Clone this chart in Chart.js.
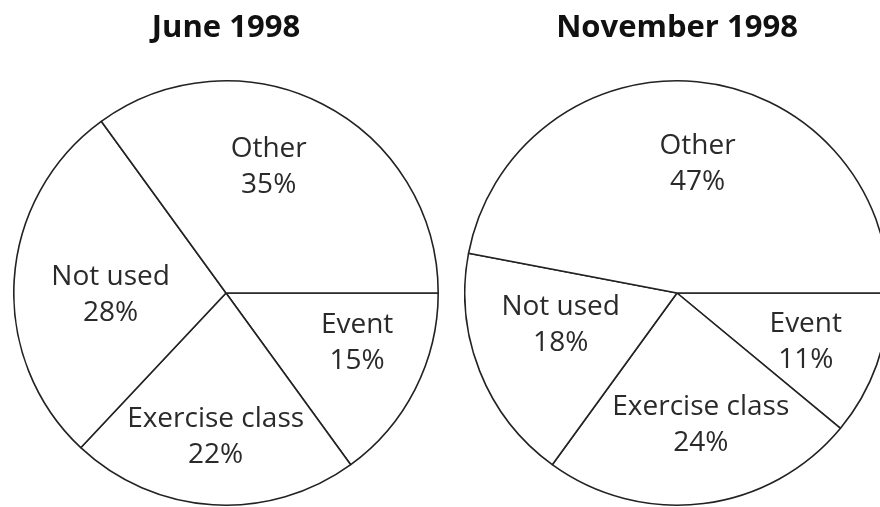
<!DOCTYPE html>
<html>
<head>
<meta charset="utf-8">
<script src="https://cdn.jsdelivr.net/npm/chart.js@4/dist/chart.umd.min.js"></script>
<style>
  html, body { margin: 0; padding: 0; background: #fff; overflow: hidden; }
  body { width: 880px; height: 507px; position: relative; }
  .pie { position: absolute; top: 0; width: 426px; height: 507px; }
  #left { left: 13px; }
  #right { left: 464px; }
</style>
</head>
<body>
<div class="pie" id="left"><canvas id="juneChart"></canvas></div>
<div class="pie" id="right"><canvas id="novChart"></canvas></div>
<script>
// Chart data
const categories = ['Event', 'Exercise class', 'Not used', 'Other'];
const juneValues = [15, 22, 28, 35];
const novValues = [11, 24, 18, 47];
const titles = ['June 1998', 'November 1998'];

// small hand nudges of the slice labels (px), same order as categories
const juneNudge = [[12, -11], [-2, 11], [18, 10], [-18, -7]];
const novNudge = [[3, 4], [7, -1], [8, -17], [8, 4]];

// Draw "label / value%" inside each slice
const sliceLabels = {
  id: 'sliceLabels',
  afterDatasetsDraw(chart, args, opts) {
    const ctx = chart.ctx;
    const meta = chart.getDatasetMeta(0);
    const values = chart.data.datasets[0].data;
    const nudge = opts.nudge || [];
    ctx.save();
    ctx.fillStyle = '#2a2a2a';
    ctx.font = '28px "Open Sans"';
    ctx.textAlign = 'center';
    ctx.textBaseline = 'middle';
    meta.data.forEach((arc, i) => {
      const p = arc.getProps(['x', 'y', 'startAngle', 'endAngle', 'outerRadius'], true);
      const mid = (p.startAngle + p.endAngle) / 2;
      const r = p.outerRadius * 0.63;
      const n = nudge[i] || [0, 0];
      const cx = p.x + Math.cos(mid) * r + n[0];
      const cy = p.y + Math.sin(mid) * r + n[1];
      ctx.fillText(chart.data.labels[i], cx, cy - 18);
      ctx.fillText(values[i] + '%', cx, cy + 18);
    });
    ctx.restore();
  }
};

function makePie(id, values, title, nudge) {
  return new Chart(document.getElementById(id), {
    type: 'pie',
    data: {
      labels: categories,
      datasets: [{
        data: values,
        backgroundColor: '#ffffff',
        borderColor: '#222222',
        borderWidth: 1.6,
        borderAlign: 'center'
      }]
    },
    options: {
      responsive: true,
      maintainAspectRatio: false,
      animation: false,
      rotation: 90,
      layout: { padding: { bottom: 1 } },
      plugins: {
        legend: { display: false },
        tooltip: { enabled: false },
        title: {
          display: true,
          text: title,
          color: '#111',
          font: { family: 'Open Sans', size: 31, weight: 'bold', lineHeight: 1.2 },
          padding: { top: 10, bottom: 32.8 }
        },
        sliceLabels: { nudge: nudge }
      }
    },
    plugins: [sliceLabels]
  });
}

makePie('juneChart', juneValues, titles[0], juneNudge);
makePie('novChart', novValues, titles[1], novNudge);
</script>
</body>
</html>
